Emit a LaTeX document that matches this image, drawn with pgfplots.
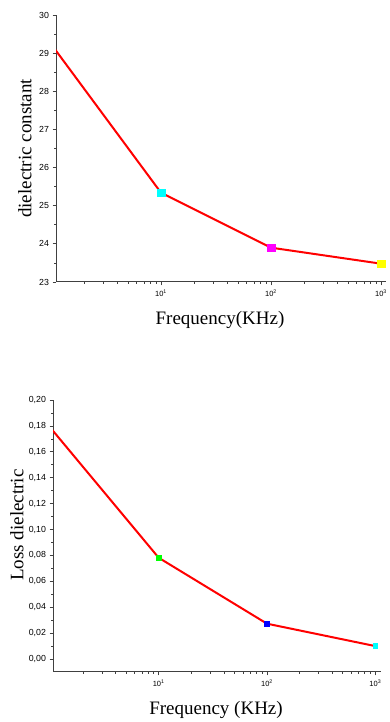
\documentclass[border=0pt]{standalone}
\usepackage{fontspec}
\setmainfont{Liberation Serif}
\setsansfont{Liberation Sans}
\usepackage{pgfplots}
\pgfplotsset{compat=1.18}
\definecolor{cyanR}{RGB}{0,255,255}
\definecolor{magR}{RGB}{255,0,255}
\definecolor{yelR}{RGB}{255,255,0}
\definecolor{greenR}{RGB}{0,255,0}
\definecolor{blueR}{RGB}{0,0,255}
\definecolor{redR}{RGB}{255,0,0}
\pgfplotsset{
  myaxstyle/.style={
    scale only axis, anchor=south west,
    clip mode=individual,
    axis x line*=bottom, axis y line*=left,
    axis line style={line width=1pt, black!75},
    tick align=outside, tick style={black!75, line width=0.7pt},
    major tick length=3.5pt, minor tick length=2pt,
    minor y tick num=1,
    xtick={10,100,1000},
    minor xtick={2,3,4,5,6,7,8,9,20,30,40,50,60,70,80,90,200,300,400,500,600,700,800,900},
    xticklabels={10\textsuperscript{1},10\textsuperscript{2},10\textsuperscript{3}},
    x tick label style={font=\fontsize{7.5}{8}\selectfont\sffamily, yshift=-1pt},
    y tick label style={font=\fontsize{8.8}{9}\selectfont\sffamily},
    label style={font=\fontsize{19}{21}\selectfont},
  }
}
\begin{document}
\begin{tikzpicture}
\useasboundingbox (0pt,0pt) rectangle (389pt,722pt);
\begin{axis}[xmode=log, myaxstyle, at={(56pt,440pt)}, width=330pt, height=267pt,
  xmin=1.11, xmax=1110, ymin=23, ymax=30, ytick={23,24,25,26,27,28,29,30},
  yticklabels={23,24,25,26,27,28,29,30},
  xlabel={Frequency(KHz)}, ylabel={dielectric constant},
  xlabel style={at={(axis description cs:0.497,-0.143)}, anchor=center},
  ylabel style={at={(axis description cs:-0.094,0.5)}, anchor=center},
]
\addplot[redR, line width=2pt] coordinates {(1,29.24) (10,25.34) (100,23.90) (1000,23.48)};
\addplot[cyanR, only marks, mark=square*, mark size=3.8pt] coordinates {(10,25.34)};
\addplot[magR, only marks, mark=square*, mark size=3.8pt] coordinates {(100,23.90)};
\addplot[yelR, only marks, mark=square*, mark size=3.8pt] coordinates {(1000,23.48)};
\end{axis}
\begin{axis}[xmode=log, myaxstyle, at={(53pt,50pt)}, width=328pt, height=272pt,
  xmin=1.057, xmax=1129, ymin=-0.01, ymax=0.20,
  ytick={0,0.02,0.04,0.06,0.08,0.10,0.12,0.14,0.16,0.18,0.20},
  yticklabels={{0,00},{0,02},{0,04},{0,06},{0,08},{0,10},{0,12},{0,14},{0,16},{0,18},{0,20}},
  xlabel={Frequency (KHz)}, ylabel={Loss dielectric},
  xlabel style={at={(axis description cs:0.497,-0.14)}, anchor=center},
  ylabel style={at={(axis description cs:-0.11,0.54)}, anchor=center},
]
\addplot[redR, line width=2pt] coordinates {(1,0.1786) (10,0.0782) (100,0.0273) (1000,0.0100)};
\addplot[greenR, only marks, mark=square*, mark size=2.4pt] coordinates {(10,0.0782)};
\addplot[blueR, only marks, mark=square*, mark size=2.4pt] coordinates {(100,0.0273)};
\addplot[cyanR, only marks, mark=square*, mark size=2.4pt] coordinates {(1000,0.0100)};
\end{axis}
\end{tikzpicture}
\end{document}
